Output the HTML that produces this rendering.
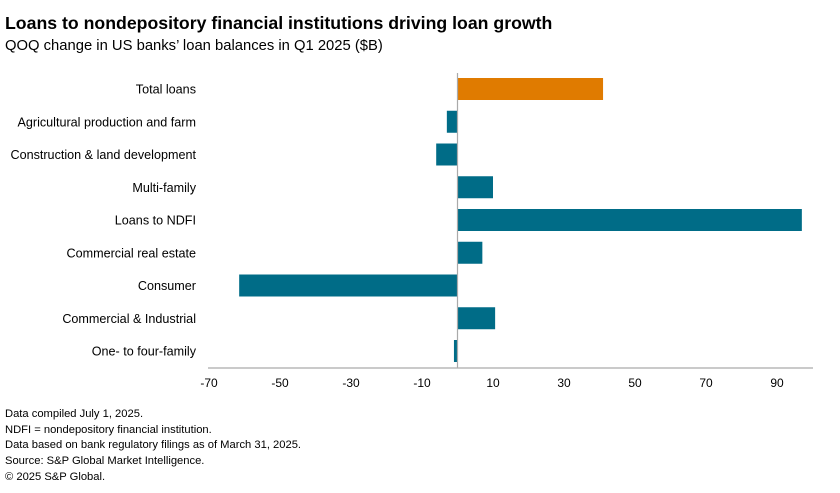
<!DOCTYPE html>
<html><head><meta charset="utf-8"><style>
body{margin:0;background:#fff;font-family:"Liberation Sans",sans-serif;}
</style></head><body>
<svg width="840" height="493" style="display:block">
<text x="5" y="29" font-size="17.7" font-weight="bold" fill="#000">Loans to nondepository financial institutions driving loan growth</text>
<text x="5" y="50" font-size="14.8" fill="#000">QOQ change in US banks’ loan balances in Q1 2025 ($B)</text>
<g id="plot"></g>
<g font-size="11.2" fill="#000">
<text x="5" y="417">Data compiled July 1, 2025.</text>
<text x="5" y="433">NDFI = nondepository financial institution.</text>
<text x="5" y="448">Data based on bank regulatory filings as of March 31, 2025.</text>
<text x="5" y="464">Source: S&amp;P Global Market Intelligence.</text>
<text x="5" y="480">© 2025 S&amp;P Global.</text>
</g>
</svg>
<script>
const categories=["Total loans","Agricultural production and farm","Construction & land development","Multi-family","Loans to NDFI","Commercial real estate","Consumer","Commercial & Industrial","One- to four-family"];
const values=[41,-3,-6,10,97,7,-61.5,10.6,-1];
const ticks=[-70,-50,-30,-10,10,30,50,70,90];
const NS="http://www.w3.org/2000/svg";
const g=document.getElementById('plot');
const x=v=>457.5+v*3.55;
const rowY=i=>89+i*32.75;
function el(t,a){const e=document.createElementNS(NS,t);for(const k in a)e.setAttribute(k,a[k]);g.appendChild(e);return e;}
categories.forEach((c,i)=>{
 const v=values[i];
 const b=el('rect',{x:Math.min(x(0),x(v)),y:rowY(i)-11,width:Math.abs(x(v)-x(0)),height:22,fill:i===0?'#e07b00':'#006c87'});
 
 
 const t=el('text',{x:196,y:rowY(i)+4.5,'text-anchor':'end','font-size':12.6});
 t.textContent=c;
 
 
});
const zl=el('line',{x1:x(0),x2:x(0),y1:73,y2:368,stroke:'#aaa','stroke-width':1.2});


const ax=el('line',{x1:208,x2:813,y1:368,y2:368,stroke:'#aaa','stroke-width':1.2});


ticks.forEach(v=>{
 const t=el('text',{x:x(v),y:387,'text-anchor':'middle','font-size':12});
 t.textContent=v;
 
 
});
</script>
</body></html>
